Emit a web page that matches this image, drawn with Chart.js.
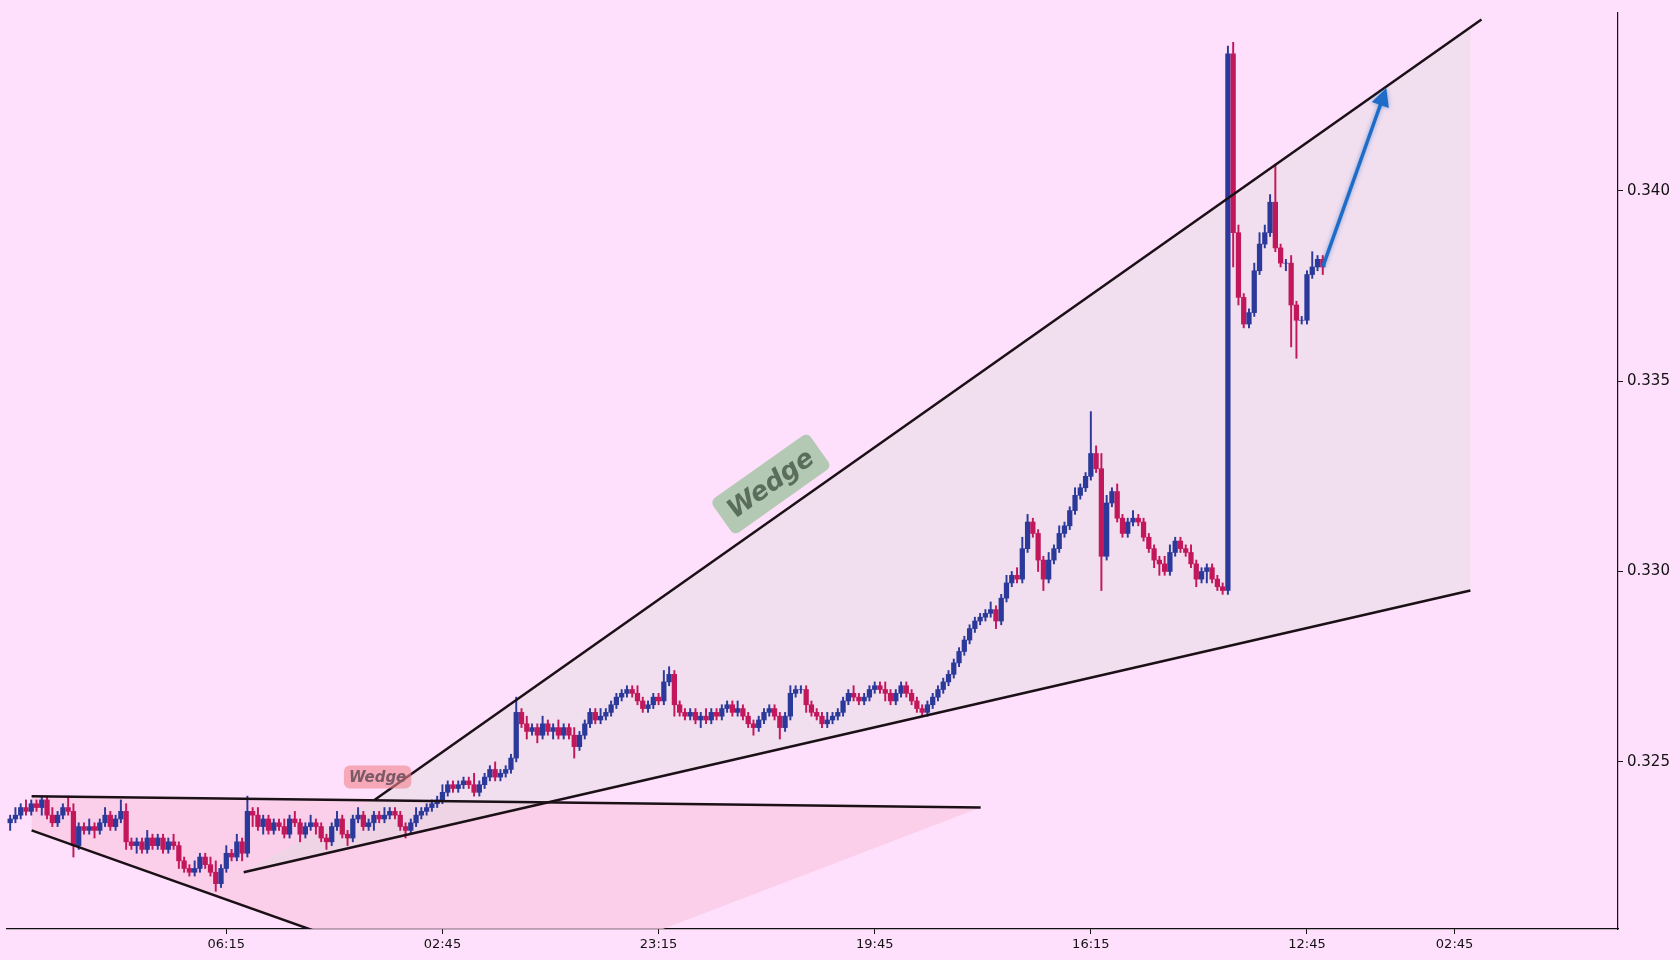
<!DOCTYPE html>
<html><head><meta charset="utf-8">
<script src="https://cdn.jsdelivr.net/npm/chart.js@4.4.1/dist/chart.umd.min.js"></script>
<style>html,body{margin:0;padding:0;background:#ffe0fc}#wrap{width:1680px;height:960px}</style>
</head><body><div id="wrap"><canvas id="c" width="1680" height="960"></canvas></div>
<script>
const TICK = 0.0001;
const closes = [
0.3235,0.3236,0.3238,0.3237,0.3239,0.3238,0.3240,0.3236,0.3234,0.3236,
0.3238,0.3237,0.3228,0.3233,0.3232,0.3233,0.3232,0.3234,0.3236,0.3233,
0.3235,0.3237,0.3229,0.3228,0.3229,0.3227,0.3230,0.3228,0.3230,0.3227,
0.3229,0.3228,0.3224,0.3222,0.3221,0.3222,0.3225,0.3223,0.3221,0.3218,
0.3222,0.3226,0.3225,0.3229,0.3226,0.3237,0.3236,0.3233,0.3235,0.3232,
0.3234,0.3233,0.3231,0.3235,0.3234,0.3231,0.3233,0.3234,0.3233,0.3230,
0.3229,0.3233,0.3235,0.3231,0.3230,0.3235,0.3236,0.3233,0.3234,0.3236,
0.3235,0.3236,0.3237,0.3236,0.3233,0.3232,0.3234,0.3236,0.3237,0.3238,
0.3239,0.3240,0.3242,0.3244,0.3243,0.3244,0.3245,0.3244,0.3242,0.3244,
0.3246,0.3248,0.3246,0.3247,0.3248,0.3251,0.3263,0.3260,0.3258,0.3259,
0.3257,0.3260,0.3258,0.3259,0.3257,0.3259,0.3257,0.3254,0.3257,0.3260,
0.3263,0.3261,0.3262,0.3263,0.3265,0.3267,0.3268,0.3269,0.3268,0.3266,
0.3264,0.3265,0.3267,0.3266,0.3271,0.3273,0.3265,0.3263,0.3262,0.3263,
0.3261,0.3262,0.3261,0.3263,0.3262,0.3264,0.3265,0.3263,0.3264,0.3262,
0.3260,0.3259,0.3261,0.3263,0.3264,0.3262,0.3259,0.3262,0.3268,0.3269,
0.3269,0.3265,0.3263,0.3262,0.3260,0.3261,0.3262,0.3263,0.3266,0.3268,
0.3267,0.3266,0.3267,0.3269,0.3270,0.3269,0.3268,0.3266,0.3268,0.3270,
0.3268,0.3266,0.3264,0.3263,0.3265,0.3267,0.3269,0.3271,0.3273,0.3276,
0.3279,0.3282,0.3285,0.3287,0.3288,0.3289,0.3290,0.3287,0.3293,0.3297,
0.3299,0.3298,0.3306,0.3313,0.3310,0.3303,0.3298,0.3303,0.3306,0.3310,
0.3312,0.3316,0.3320,0.3322,0.3325,0.3331,0.3327,0.3304,0.3318,0.3321,
0.3314,0.3310,0.3313,0.3314,0.3313,0.3309,0.3306,0.3303,0.3302,0.3300,
0.3305,0.3308,0.3306,0.3305,0.3302,0.3298,0.3300,0.3301,0.3298,0.3296,
0.3295,0.3436,0.3389,0.3372,0.3365,0.3368,0.3379,0.3386,0.3389,0.3397,
0.3385,0.3381,0.3381,0.3370,0.3366,0.3366,0.3378,0.3380,0.3382,0.3380];
const firstOpen = 0.3234;
const wickUp = [
1,2,1,2,1,1,1,1,2,1, 1,3,2,1,1,2,1,1,2,1, 1,3,2,1,1,1,2,1,1,1, 1,2,1,1,1,2,1,1,2,3,
1,2,1,2,1,4,1,2,1,1, 1,1,2,1,2,1,1,2,1,1, 1,1,2,1,1,1,2,1,1,1, 1,2,1,1,1,1,1,2,1,1,
1,1,2,1,1,1,1,1,3,1, 1,1,2,1,1,1,4,1,2,1, 1,2,1,1,2,1,1,2,1,1, 1,1,2,1,1,1,1,1,1,2,
1,1,1,1,3,2,1,1,1,1, 1,1,2,1,1,1,1,1,2,1, 1,1,1,1,1,1,1,1,2,1, 1,1,1,1,1,2,1,1,1,1,
2,1,1,1,1,1,2,1,1,1, 1,1,1,1,1,1,1,1,1,1, 1,1,1,1,1,1,2,1,1,2, 1,2,3,2,1,1,1,2,1,2,
1,1,2,1,1,11,2,4,2,1, 2,1,1,2,1,1,1,1,1,2, 2,1,1,1,2,1,1,1,1,1, 1,2,3,2,1,1,2,3,2,2,
10,1,1,2,1,1,1,4,1,1];
const wickDown = [
2,1,1,1,1,1,2,1,1,1, 1,1,3,1,1,1,2,1,1,1, 1,1,2,1,2,1,1,1,1,1, 1,1,2,1,1,1,1,1,1,2,
1,1,1,1,2,1,3,1,2,1, 1,1,1,1,1,2,1,1,2,1, 2,1,1,1,2,1,1,1,1,2, 1,1,1,1,1,2,1,1,1,1,
1,1,1,1,1,1,1,1,1,1, 1,1,1,1,1,1,1,1,2,1, 2,1,1,2,1,1,1,3,1,1, 1,1,1,1,1,1,1,1,1,1,
1,1,1,1,1,1,3,1,1,1, 1,2,1,1,1,1,1,1,1,1, 1,2,1,1,1,1,3,1,1,1, 1,2,1,1,1,1,1,1,1,1,
1,1,1,1,1,1,2,1,1,1, 1,1,1,1,1,1,1,1,1,1, 1,1,1,1,1,1,1,2,1,1, 1,1,1,1,1,3,3,1,1,1,
1,1,1,1,1,1,1,9,1,1, 1,1,1,1,1,1,1,2,3,1, 1,1,1,1,1,2,1,3,1,1, 1,1,9,2,1,1,1,1,1,1,
1,1,2,11,10,1,1,1,1,2];
const tickPositions = [41,82,123,164,205,246,274];
const tickLabels = ["06:15","02:45","23:15","19:45","16:15","12:45","02:45"];
const yTicks = [0.325,0.330,0.335,0.340];
const bigUpper = [[69.1,0.3240],[279.1,0.3445]];
const bigLower = [[44.3,0.3221],[277,0.3295]];
const bigFill = [[44.3,0.3221],[277,0.3295],[277,0.3443],[69.1,0.3240]];
const smallUpper = [[4.07,0.3241],[184.1,0.3238]];
const smallLower = [[4.07,0.3232],[91.5,0.3189]];
const smallFill = [[4.07,0.3241],[184.1,0.3238],[91.5,0.3189],[4.07,0.3232]];
const bigLabel = {x:144.3, y:0.3323, text:"Wedge"};
const smallLabel = {x:69.7, y:0.3246, text:"Wedge"};
const arrowPts = [[249,0.3380],[260.8,0.3426]];

const BLUE='#2b3a9a', RED='#c2185b';
const opens = closes.map((c,i)=> i===0 ? firstOpen : closes[i-1]);
const bodies = closes.map((c,i)=>({x:i, y:[opens[i], c]}));
const wicks = closes.map((c,i)=>({x:i, y:[Math.min(opens[i],c)-wickDown[i]*TICK, Math.max(opens[i],c)+wickUp[i]*TICK]}));
const cols = closes.map((c,i)=> c>=opens[i]?BLUE:RED);

const annot = {
  id:'annot',
  beforeDraw(chart){const ctx=chart.ctx;ctx.save();ctx.fillStyle='#ffe0fc';ctx.fillRect(0,0,chart.width,chart.height);ctx.restore();},
  beforeDatasetsDraw(chart){
    const {ctx,chartArea:a,scales:{x,y}}=chart;
    const P=p=>[x.getPixelForValue(p[0]),y.getPixelForValue(p[1])];
    ctx.save();ctx.beginPath();ctx.rect(a.left,a.top,a.right-a.left,a.bottom-a.top);ctx.clip();
    const poly=(pts,fill)=>{ctx.beginPath();pts.forEach((p,i)=>{const q=P(p);i?ctx.lineTo(q[0],q[1]):ctx.moveTo(q[0],q[1]);});ctx.closePath();ctx.fillStyle=fill;ctx.fill();};
    poly(smallFill,'rgba(250,200,228,0.75)');
    poly(bigFill,'rgba(225,220,225,0.45)');
    ctx.restore();
  },
  afterDatasetsDraw(chart){
    const {ctx,chartArea:a,scales:{x,y}}=chart;
    const P=p=>[x.getPixelForValue(p[0]),y.getPixelForValue(p[1])];
    ctx.save();ctx.beginPath();ctx.rect(a.left,a.top,a.right-a.left,a.bottom-a.top);ctx.clip();
    const line=(pts)=>{const p0=P(pts[0]),p1=P(pts[1]);ctx.beginPath();ctx.moveTo(p0[0],p0[1]);ctx.lineTo(p1[0],p1[1]);ctx.strokeStyle='#1a1016';ctx.lineWidth=2.5;ctx.stroke();};
    [bigUpper,bigLower,smallUpper,smallLower].forEach(line);
    const s=P(arrowPts[0]),e=P(arrowPts[1]);
    const ang=Math.atan2(e[1]-s[1],e[0]-s[0]);
    ctx.shadowColor='rgba(21,101,192,0.5)';ctx.shadowBlur=4;
    ctx.strokeStyle='#1e6cc8';ctx.lineWidth=3.5;ctx.beginPath();ctx.moveTo(s[0],s[1]);ctx.lineTo(e[0]-Math.cos(ang)*10,e[1]-Math.sin(ang)*10);ctx.stroke();
    ctx.fillStyle='#1e6cc8';ctx.beginPath();
    ctx.moveTo(e[0]+Math.cos(ang)*4,e[1]+Math.sin(ang)*4);
    ctx.lineTo(e[0]-Math.cos(ang)*14+Math.cos(ang+Math.PI/2)*9,e[1]-Math.sin(ang)*14+Math.sin(ang+Math.PI/2)*9);
    ctx.lineTo(e[0]-Math.cos(ang)*14-Math.cos(ang+Math.PI/2)*9,e[1]-Math.sin(ang)*14-Math.sin(ang+Math.PI/2)*9);
    ctx.closePath();ctx.fill();
    ctx.shadowBlur=0;
    const label=(L,font,rot,bg,fg,padX,padY)=>{
      const q=P([L.x,L.y]);ctx.save();ctx.translate(q[0],q[1]);ctx.rotate(rot);
      ctx.font=font;const w=ctx.measureText(L.text).width;const h=parseInt(font.match(/(\d+)px/)[1]);
      ctx.fillStyle=bg;ctx.beginPath();ctx.roundRect(-w/2-padX,-h/2-padY,w+2*padX,h+2*padY,6);ctx.fill();
      ctx.fillStyle=fg;ctx.textAlign='center';ctx.textBaseline='middle';ctx.fillText(L.text,0,1);ctx.restore();};
    label(bigLabel,'italic bold 26px "DejaVu Sans"',-35.3*Math.PI/180,'rgba(160,195,160,0.8)','#5b6d5b',10,8);
    label(smallLabel,'italic bold 15px "DejaVu Sans"',0,'rgba(240,130,140,0.6)','#7a5a66',5,4);
    ctx.restore();
  }
};

new Chart(document.getElementById('c'),{
  type:'bar',
  data:{datasets:[
    {data:wicks,backgroundColor:cols,barThickness:1.3,grouped:false,order:2},
    {data:bodies,backgroundColor:cols,barThickness:4.6,grouped:false,order:1}
  ]},
  options:{
    responsive:false,animation:false,
    layout:{padding:{left:7,top:7,right:0,bottom:0}},
    plugins:{legend:{display:false},tooltip:{enabled:false}},
    scales:{
      x:{type:'linear',min:-0.6,max:305,offset:false,
        afterBuildTicks:s=>{s.ticks=tickPositions.map(v=>({value:v}));},
        afterFit:s=>{s.height=31;},
        ticks:{callback:(v,i)=>tickLabels[i],font:{family:'DejaVu Sans',size:13},color:'#111',maxRotation:0,autoSkip:false,padding:3},
        grid:{display:true,offset:false,drawOnChartArea:false,drawTicks:true,tickLength:5,color:'#111'},
        border:{display:true,color:'#111',width:1.2}},
      y:{type:'linear',position:'right',min:0.32061,max:0.34467,
        afterBuildTicks:s=>{s.ticks=yTicks.map(v=>({value:v}));},
        afterFit:s=>{s.width=62;},
        ticks:{callback:v=>v.toFixed(3),font:{family:'DejaVu Sans',size:15},color:'#111',padding:4},
        grid:{display:true,offset:false,drawOnChartArea:false,drawTicks:true,tickLength:5,color:'#111'},
        border:{display:true,color:'#111',width:1.2}}
    }
  },
  plugins:[annot]
});
</script></body></html>
